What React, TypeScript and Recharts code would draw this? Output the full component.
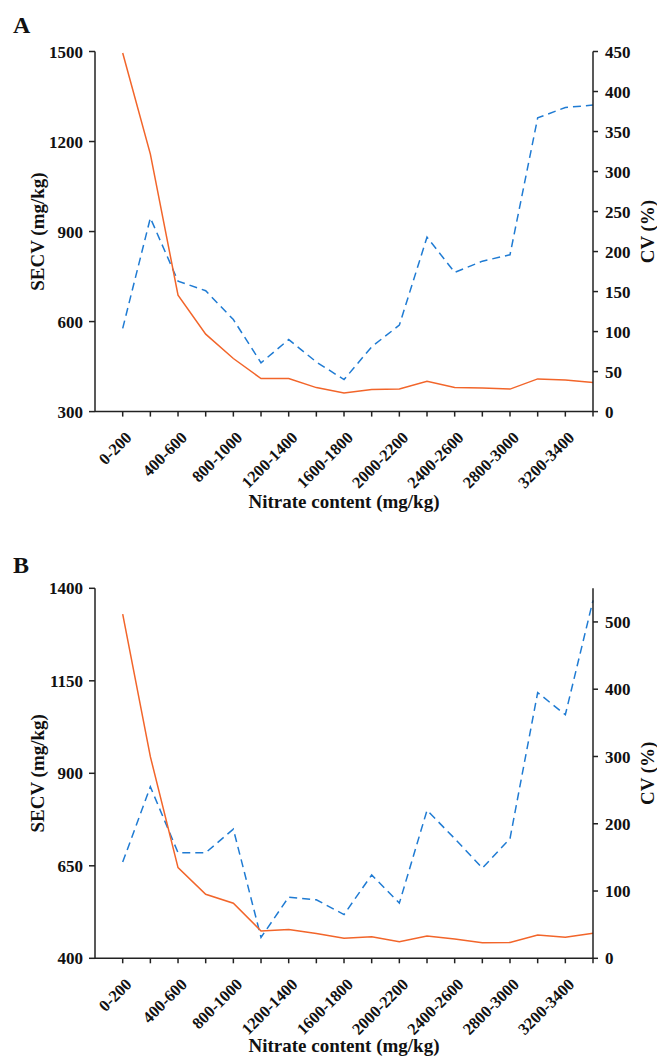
import { LineChart, Line, XAxis, YAxis } from 'recharts'

const categories = [
  '0-200', '200-400', '400-600', '600-800', '800-1000', '1000-1200',
  '1200-1400', '1400-1600', '1600-1800', '1800-2000', '2000-2200', '2200-2400',
  '2400-2600', '2600-2800', '2800-3000', '3000-3200', '3200-3400', '3400-3600',
]

// panel A
const secvA = [1495, 1158, 688, 558, 477, 410, 410, 380, 362, 374, 375, 401, 380, 379, 375, 409, 405, 397]
const cvA = [104, 242, 163, 151, 115, 61, 90, 62, 40, 81, 108, 218, 174, 188, 196, 367, 380, 383]
const secvTicksA = [300, 600, 900, 1200, 1500]
const cvTicksA = [0, 50, 100, 150, 200, 250, 300, 350, 400, 450]

// panel B
const secvB = [1330, 945, 645, 573, 549, 474, 478, 467, 454, 458, 445, 460, 452, 442, 443, 463, 457, 468]
const cvB = [143, 255, 157, 157, 192, 31, 91, 87, 65, 124, 82, 220, 178, 134, 178, 395, 362, 532]
const secvTicksB = [400, 650, 900, 1150, 1400]
const cvTicksB = [0, 100, 200, 300, 400, 500]

const FONT = '"Liberation Serif", "Times New Roman", serif'
const AXIS = '#222'
const ORANGE = '#f2652a'
const BLUE = '#1f7bd3'

const tickStyle = { fontFamily: FONT, fontWeight: 700, fontSize: 17, fill: '#111' }
const titleStyle = { fontFamily: FONT, fontWeight: 700, fontSize: 19, fill: '#111' }

// rotated labels, only every other category gets text
const XTick = (props: any) => {
  const { x, y, payload, index } = props
  if (index % 2 === 1) return <g />
  return (
    <g transform={`translate(${x + 10},${y + 20})`}>
      <text textAnchor="end" transform="rotate(-45)" style={{ ...tickStyle, fontSize: 16.5 }}>
        {payload.value}
      </text>
    </g>
  )
}

interface PanelProps {
  secv: number[]
  cv: number[]
  secvDomain: [number, number]
  secvTicks: number[]
  cvDomain: [number, number]
  cvTicks: number[]
  height: number
  top: number
  xAxisHeight: number
  titleOffset: number
}

const Panel = ({ secv, cv, secvDomain, secvTicks, cvDomain, cvTicks, height, top, xAxisHeight, titleOffset }: PanelProps) => {
  const data = categories.map((name, i) => ({ name, secv: secv[i], cv: cv[i] }))
  return (
    <LineChart width={657} height={height} data={data} margin={{ top, right: 0, bottom: 0, left: 0 }}>
      <XAxis
        dataKey="name"
        interval={0}
        padding={{ left: 27.7, right: 0 }}
        height={xAxisHeight}
        tick={<XTick />}
        tickSize={5}
        tickMargin={2}
        stroke={AXIS}
        strokeWidth={1.5}
        label={{ value: 'Nitrate content (mg/kg)', position: 'insideBottom', offset: titleOffset, style: titleStyle }}
      />
      <YAxis
        yAxisId="left"
        width={95}
        domain={secvDomain}
        ticks={secvTicks}
        interval={0}
        tickSize={6}
        tickMargin={6}
        stroke={AXIS}
        strokeWidth={1.5}
        tick={tickStyle}
        label={{ value: 'SECV (mg/kg)', angle: -90, position: 'insideLeft', offset: 37, style: { ...titleStyle, textAnchor: 'middle' } }}
      />
      <YAxis
        yAxisId="right"
        orientation="right"
        width={64}
        domain={cvDomain}
        ticks={cvTicks}
        interval={0}
        tickSize={5}
        tickMargin={7}
        stroke={AXIS}
        strokeWidth={1.5}
        tick={tickStyle}
        label={{ value: 'CV (%)', angle: -90, position: 'insideRight', offset: 10, style: { ...titleStyle, textAnchor: 'middle' } }}
      />
      <Line yAxisId="right" dataKey="cv" stroke={BLUE} strokeWidth={1.5} strokeDasharray="8 5" dot={false} activeDot={false} isAnimationActive={false} />
      <Line yAxisId="left" dataKey="secv" stroke={ORANGE} strokeWidth={1.5} dot={false} activeDot={false} isAnimationActive={false} />
    </LineChart>
  )
}

const letterStyle: React.CSSProperties = {
  position: 'absolute',
  left: 13,
  fontFamily: FONT,
  fontWeight: 700,
  fontSize: 24,
  lineHeight: '24px',
  color: '#111',
}

export default function App() {
  return (
    <div style={{ position: 'absolute', left: 0, top: 0, width: 657, height: 1058, background: '#fff' }}>
      <div style={{ position: 'absolute', left: 0, top: 0 }}>
        <Panel
          secv={secvA}
          cv={cvA}
          secvDomain={[300, 1500]}
          secvTicks={secvTicksA}
          cvDomain={[0, 450]}
          cvTicks={cvTicksA}
          height={530}
          top={51.5}
          xAxisHeight={118.4}
          titleOffset={22}
        />
      </div>
      <div style={{ position: 'absolute', left: 0, top: 530 }}>
        <Panel
          secv={secvB}
          cv={cvB}
          secvDomain={[400, 1400]}
          secvTicks={secvTicksB}
          cvDomain={[0, 550]}
          cvTicks={cvTicksB}
          height={528}
          top={58.3}
          xAxisHeight={99.7}
          titleOffset={6}
        />
      </div>
      <div style={{ ...letterStyle, top: 13 }}>A</div>
      <div style={{ ...letterStyle, top: 553 }}>B</div>
    </div>
  )
}
